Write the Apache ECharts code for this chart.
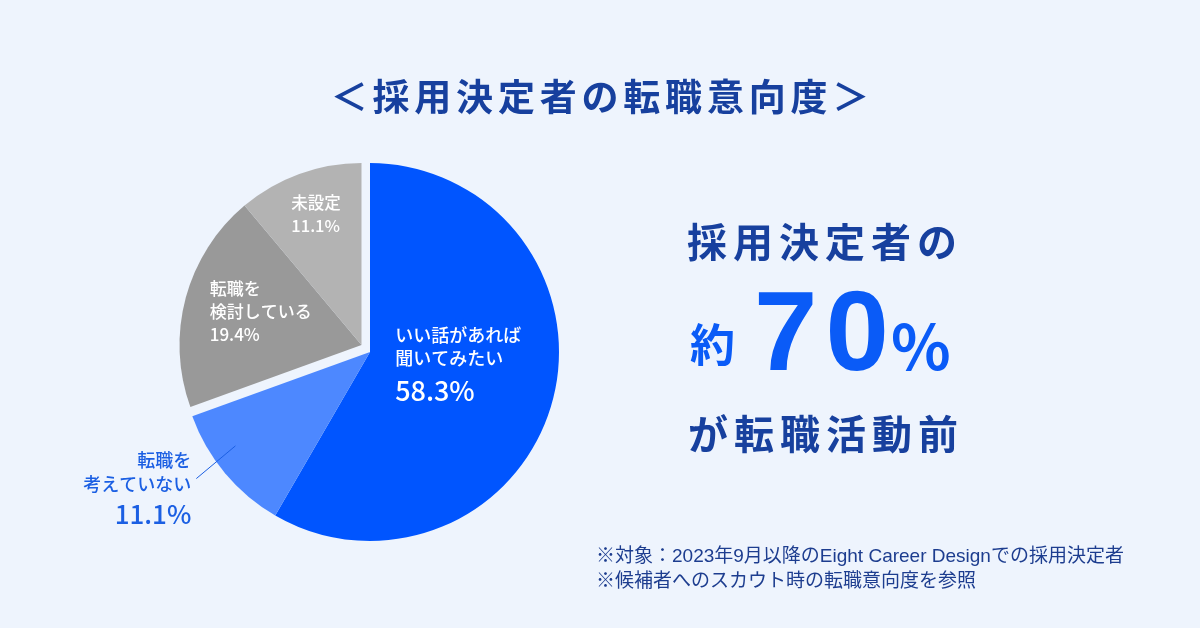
<!DOCTYPE html>
<html><head><meta charset="utf-8">
<script src="https://cdn.jsdelivr.net/npm/echarts@6/dist/echarts.min.js"></script>
<style>html,body{margin:0;padding:0;background:#EEF4FD}#c{width:1200px;height:628px}</style>
</head><body><div id="c"></div>
<script>
// ---- data ----
const categories = ['いい話があれば\n聞いてみたい', '転職を\n考えていない', '転職を\n検討している', '未設定'];
const values = [58.3, 11.1, 19.4, 11.1];
const titleText = '＜採用決定者の転職意向度＞';
const headline1 = '採用決定者の';
const headlinePrefix = '約';
const headlineNumber = '70';
const headlineUnit = '%';
const headline3 = 'が転職活動前';
const notes = ['※対象：2023年9月以降のEight Career Designでの採用決定者', '※候補者へのスカウト時の転職意向度を参照'];

// ---- style ----
const FONT = '"Noto Sans CJK JP", "Noto Sans", sans-serif';
const NOTE_FONT = '"Liberation Sans", "Noto Sans CJK JP", sans-serif';
const sliceColors = ['#0055FF', '#4D88FF', '#999999', '#B3B3B3'];
const NAVY = '#17409E';
const BRIGHT = '#0A5BF7';
const CALLOUT = '#1B5FE3';
const blueGroup = [0, 1];
const grayGroup = [2, 3];

function spaced(str, key) {
  return Array.from(str).map(c => '{' + key + '|' + c + '}').join('');
}

function labelFor(i) {
  const nm = categories[i].split('\n');
  const pct = values[i].toFixed(1) + '%';
  return nm.map(l => '{a|' + l + '}').join('\n') + '\n{b|' + pct + '}';
}

const insideLabelCfg = {
  0: { offset: [1, -10], w: 140, fa: 18, la: 23, fb: 27, lb: 42 },
  2: { offset: [-6, -9], w: 110, fa: 17, la: 23, fb: 17, lb: 23 },
  3: { offset: [-12, -42.5], w: 52, fa: 16.5, la: 23, fb: 16.5, lb: 23 }
};

function makeData(group) {
  return values.map((v, i) => {
    const inGroup = group.includes(i);
    const d = { name: categories[i], value: v,
      itemStyle: { color: inGroup ? sliceColors[i] : 'rgba(0,0,0,0)' },
      label: { show: false }, labelLine: { show: false } };
    if (inGroup && insideLabelCfg[i]) {
      const c = insideLabelCfg[i];
      d.label = {
        show: true, position: 'inside', offset: c.offset,
        formatter: labelFor(i),
        rich: {
          a: { fontFamily: FONT, fontSize: c.fa, fontWeight: 500, color: '#fff', lineHeight: c.la, width: c.w, align: 'left' },
          b: { fontFamily: FONT, fontSize: c.fb, fontWeight: 500, color: '#fff', lineHeight: c.lb, width: c.w, align: 'left' }
        }
      };
    }
    return d;
  });
}

// outside label for light-blue slice (leader starts inside the slice)
const outsideData = values.map((v, i) => {
  const d = { name: categories[i], value: v, itemStyle: { color: 'rgba(0,0,0,0)' }, label: { show: false }, labelLine: { show: false } };
  if (i === 1) {
    d.label = {
      show: true, position: 'outside', distanceToLabelLine: 5, padding: [24, 0, 0, 0],
      formatter: labelFor(i),
      rich: {
        a: { fontFamily: FONT, fontSize: 18, fontWeight: 500, color: CALLOUT, lineHeight: 24, width: 130, align: 'right' },
        b: { fontFamily: FONT, fontSize: 26, fontWeight: 500, color: CALLOUT, lineHeight: 36, width: 130, align: 'right' }
      }
    };
    d.labelLine = { show: true, length: 51, length2: 0, lineStyle: { color: CALLOUT, width: 1 } };
  }
  return d;
});

const common = { type: 'pie', startAngle: 90, clockwise: true, silent: true, animation: false,
  avoidLabelOverlap: false, minShowLabelAngle: 0, emphasis: { disabled: true } };

const chart = echarts.init(document.getElementById('c'), null, { renderer: 'canvas' });
chart.setOption({
  backgroundColor: '#EEF4FD',
  animation: false,
  series: [
    Object.assign({}, common, { name: 'blue', center: [370, 352], radius: 189, data: makeData(blueGroup), z: 2 }),
    Object.assign({}, common, { name: 'gray', center: [361.5, 345], radius: 182, data: makeData(grayGroup), z: 2 }),
    Object.assign({}, common, { name: 'callout', center: [362, 340], radius: 165, data: outsideData, z: 3 })
  ],
  graphic: [
    { type: 'text', x: 600, y: 97, z: 10, style: {
      text: spaced(titleText, 't'), align: 'center', verticalAlign: 'middle',
      rich: { t: { fontFamily: FONT, fontSize: 37, fontWeight: 'bold', fill: NAVY, padding: [0, 2.4, 0, 2.4] } } } },
    { type: 'text', x: 822, y: 242, z: 10, style: {
      text: spaced(headline1, 'h'), align: 'center', verticalAlign: 'middle',
      rich: { h: { fontFamily: FONT, fontSize: 40, fontWeight: 'bold', fill: NAVY, padding: [0, 3, 0, 3] } } } },
    { type: 'text', x: 690, y: 345, z: 10, style: {
      text: headlinePrefix, align: 'left', verticalAlign: 'middle',
      fontFamily: FONT, fontSize: 45, fontWeight: 'bold', fill: BRIGHT } },
    { type: 'text', x: 750, y: 339, z: 10, style: {
      text: spaced(headlineNumber, 'n'), align: 'left', verticalAlign: 'middle',
      rich: { n: { fontFamily: '"Liberation Sans", Arial, sans-serif', fontSize: 114, fontWeight: 'bold', fill: BRIGHT, padding: [0, 4, 0, 4] } } } },
    { type: 'text', x: 891, y: 346, z: 10, style: {
      text: headlineUnit, align: 'left', verticalAlign: 'middle',
      fontFamily: FONT, fontSize: 62, fontWeight: 'bold', fill: BRIGHT } },
    { type: 'text', x: 823, y: 434, z: 10, style: {
      text: spaced(headline3, 'h'), align: 'center', verticalAlign: 'middle',
      rich: { h: { fontFamily: FONT, fontSize: 40, fontWeight: 'bold', fill: NAVY, padding: [0, 3, 0, 3] } } } },
    { type: 'text', x: 596, y: 557, z: 10, style: {
      text: notes[0], align: 'left', verticalAlign: 'middle',
      fontFamily: NOTE_FONT, fontSize: 19, fill: '#1D3D8F' } },
    { type: 'text', x: 596, y: 582, z: 10, style: {
      text: notes[1], align: 'left', verticalAlign: 'middle',
      fontFamily: NOTE_FONT, fontSize: 19, fill: '#1D3D8F' } }
  ]
});
</script></body></html>
